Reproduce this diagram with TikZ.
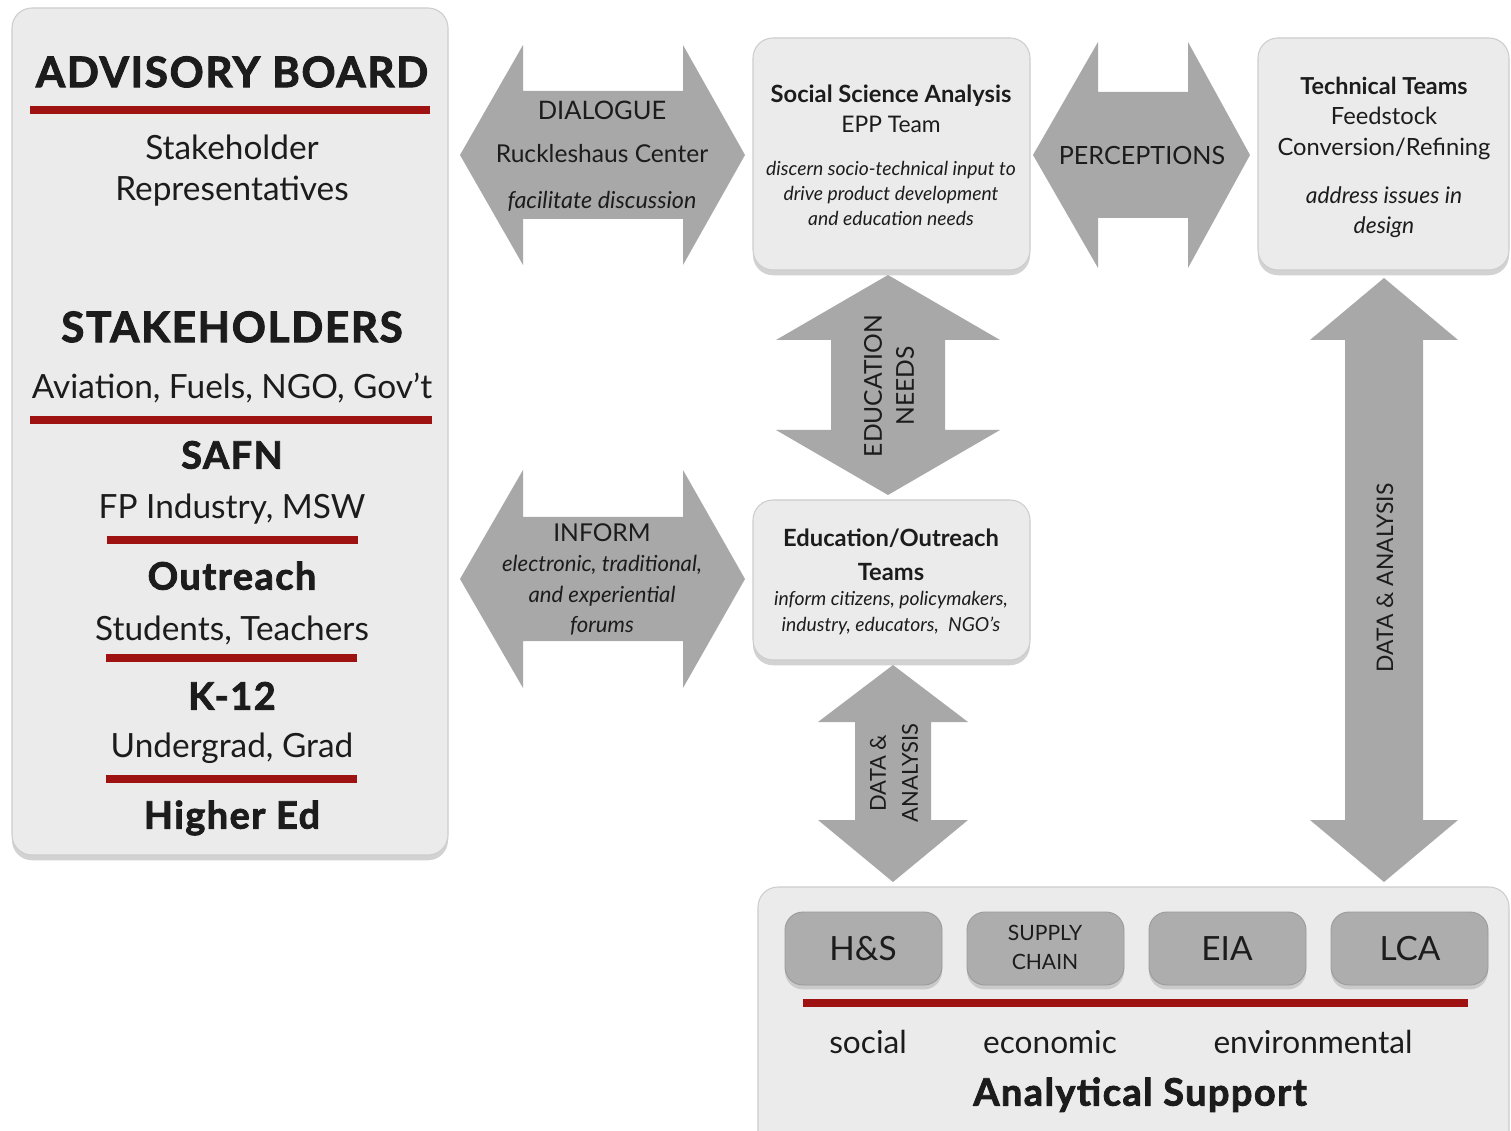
\documentclass[tikz,border=0pt]{standalone}
\usepackage{fontspec}
\setmainfont{Lato}
\newfontfamily\heavyfont{Lato}[BoldFeatures={FakeBold=2.2}, LetterSpace=4]
\usetikzlibrary{shadows}
\definecolor{panelfill}{HTML}{EBEBEB}
\definecolor{panelborder}{HTML}{CDCDCD}
\definecolor{arrowgray}{HTML}{A8A8A8}
\definecolor{innerfill}{HTML}{ADADAD}
\definecolor{innerborder}{HTML}{9A9A9A}
\definecolor{redc}{HTML}{9E1212}
\definecolor{txtc}{HTML}{1C1C1C}
\newcommand{\hdarr}[7]{\fill[arrowfill] (#1,#5) -- (#3,#5-#6) -- (#3,#5-#7) -- (#4,#5-#7) -- (#4,#5-#6) -- (#2,#5) -- (#4,#5+#6) -- (#4,#5+#7) -- (#3,#5+#7) -- (#3,#5+#6) -- cycle;}
\newcommand{\vdarr}[7]{\fill[arrowfill] (#5,#1) -- (#5-#6,#3) -- (#5-#7,#3) -- (#5-#7,#4) -- (#5-#6,#4) -- (#5,#2) -- (#5+#6,#4) -- (#5+#7,#4) -- (#5+#7,#3) -- (#5+#6,#3) -- cycle;}
\newcommand{\fsz}[1]{\fontsize{#1}{#1}\selectfont}
\newcommand{\ct}[1]{\raisebox{-0.36em}{#1}}
\tikzset{
  panel/.style={fill=panelfill, draw=panelborder, line width=0.6pt, rounded corners=0.4cm,
    drop shadow={shadow xshift=0pt, shadow yshift=-3pt, opacity=0.35}},
  innerbox/.style={fill=innerfill, draw=innerborder, line width=0.5pt, rounded corners=0.36cm,
    drop shadow={shadow xshift=0pt, shadow yshift=-2.5pt, opacity=0.3}},
  arrowfill/.style={fill=arrowgray},
  redline/.style={draw=redc, line width=4pt},
  t/.style={inner sep=0pt, anchor=base, text=txtc},
  heavy/.style={t, font=\heavyfont\bfseries\fsz{24}},
  sub/.style={t, font=\fsz{19}},
  mid/.style={t, font=\heavyfont\bfseries\fsz{21.5}},
}
\begin{document}
\begin{tikzpicture}[x=0.02cm, y=-0.02cm]
\useasboundingbox (0,0) rectangle (1511,1131);
\fill[white] (0,0) rectangle (1511,1131);

% ---------- panels ----------
\draw[panel] (12,8) rectangle (448,855);
\draw[panel] (753,38) rectangle (1030,270);
\draw[panel] (1258,38) rectangle (1509,270);
\draw[panel] (753,500) rectangle (1030,660);
\draw[panel] (758,887) rectangle (1509,1160);

% ---------- arrows ----------
\hdarr{460}{745}{523}{683}{155}{110}{64}
\hdarr{1033}{1250}{1098}{1188}{155}{113}{63}
\hdarr{460}{745}{523}{683}{579}{109}{62}
\vdarr{275}{495}{340}{430}{888}{112}{57}
\vdarr{665}{882}{722}{820}{893}{75}{38}
\vdarr{278}{882}{340}{820}{1384}{74}{39}

% ---------- left panel ----------
\node[heavy] (adv) at (232,72) {\ct{ADVISORY BOARD}};
\draw[redline] (30,110) -- (430,110);
\node[sub] (sr1) at (232,147) {\ct{Stakeholder}};
\node[sub] (sr2) at (232,188) {\ct{Representatives}};
\node[heavy] (stk) at (232,327) {\ct{STAKEHOLDERS}};
\node[sub] (avi) at (232,386) {\ct{Aviation, Fuels, NGO, Gov’t}};
\draw[redline] (30,420) -- (432,420);
\node[mid] (safn) at (232,455) {\ct{SAFN}};
\node[sub] (fp) at (232,506) {\ct{FP Industry, MSW}};
\draw[redline] (107,540) -- (358,540);
\node[mid] (outr) at (232,576) {\ct{Outreach}};
\node[sub] (stu) at (232,628) {\ct{Students, Teachers}};
\draw[redline] (106,658) -- (357,658);
\node[mid] (k12) at (232,696) {\ct{K-12}};
\node[sub] (ug) at (232,745) {\ct{Undergrad, Grad}};
\draw[redline] (106,779) -- (357,779);
\node[mid] (hed) at (232,815) {\ct{Higher Ed}};

% ---------- dialogue arrow text ----------
\node[t, font=\fsz{14.5}] (dlg) at (602,110) {\ct{DIALOGUE}};
\node[t, font=\fsz{14}] (ruck) at (602,154) {\ct{Ruckleshaus Center}};
\node[t, font=\itshape\fsz{13.3}] (fac) at (602,200) {\ct{facilitate discussion}};

% ---------- social science box ----------
\node[t, font=\bfseries\fsz{13.5}] (ssa) at (891,94) {\ct{Social Science Analysis}};
\node[t, font=\fsz{13}] (epp) at (891,124) {\ct{EPP Team}};
\node[t, font=\itshape\fsz{11}] (ss1) at (891,169) {\ct{discern socio-technical input to}};
\node[t, font=\itshape\fsz{11}] (ss2) at (891,194) {\ct{drive product development}};
\node[t, font=\itshape\fsz{11}] (ss3) at (891,219) {\ct{and education needs}};

% ---------- perceptions ----------
\node[t, font=\fsz{14.3}] (perc) at (1142,155) {\ct{PERCEPTIONS}};

% ---------- technical teams ----------
\node[t, font=\bfseries\fsz{13.3}] (tt) at (1384,86) {\ct{Technical Teams}};
\node[t, font=\fsz{13.5}] (fs) at (1384,116) {\ct{Feedstock}};
\node[t, font=\fsz{13.5}] (cr) at (1384,147) {\ct{Conversion/Refining}};
\node[t, font=\itshape\fsz{13}] (ad1) at (1384,195) {\ct{address issues in}};
\node[t, font=\itshape\fsz{13}] (ad2) at (1384,225) {\ct{design}};

% ---------- education needs ----------
\node[t, font=\fsz{14}, rotate=90] (edn1) at (873,386) {\ct{EDUCATION}};
\node[t, font=\fsz{14}, rotate=90] (edn2) at (905,386) {\ct{NEEDS}};

% ---------- inform ----------
\node[t, font=\fsz{14}] (inf) at (602,533) {\ct{INFORM}};
\node[t, font=\itshape\fsz{12.6}] (inf1) at (602,564) {\ct{electronic, traditional,}};
\node[t, font=\itshape\fsz{12.6}] (inf2) at (602,595) {\ct{and experiential}};
\node[t, font=\itshape\fsz{12.6}] (inf3) at (602,625) {\ct{forums}};

% ---------- education/outreach ----------
\node[t, font=\bfseries\fsz{13.5}] (eo1) at (891,538) {\ct{Education/Outreach}};
\node[t, font=\bfseries\fsz{13.5}] (eo2) at (891,572) {\ct{Teams}};
\node[t, font=\itshape\fsz{11}] (eo3) at (891,599) {\ct{inform citizens, policymakers,}};
\node[t, font=\itshape\fsz{11}] (eo4) at (891,625) {\ct{industry, educators,\ \ NGO’s}};

% ---------- data & analysis ----------
\node[t, font=\fsz{12.5}, rotate=90] (da1) at (878,773) {\ct{DATA \&}};
\node[t, font=\fsz{12.5}, rotate=90] (da2) at (910,773) {\ct{ANALYSIS}};
\node[t, font=\fsz{13}, rotate=90] (dab) at (1385,578) {\ct{DATA \& ANALYSIS}};

% ---------- analytical support ----------
\draw[innerbox] (785,912) rectangle (942,985);
\draw[innerbox] (967,912) rectangle (1124,985);
\draw[innerbox] (1149,912) rectangle (1306,985);
\draw[innerbox] (1331,912) rectangle (1488,985);
\node[t, font=\fsz{19}] (hs) at (863,948) {\ct{H\&S}};
\node[t, font=\fsz{12}] (sup1) at (1045,933) {\ct{SUPPLY}};
\node[t, font=\fsz{12}] (sup2) at (1045,962) {\ct{CHAIN}};
\node[t, font=\fsz{19}] (eia) at (1227,948) {\ct{EIA}};
\node[t, font=\fsz{19}] (lca) at (1410,948) {\ct{LCA}};
\draw[redline] (803,1003) -- (1468,1003);
\node[t, font=\fsz{18}] (soc) at (868,1042) {\ct{social}};
\node[t, font=\fsz{18}] (eco) at (1050,1042) {\ct{economic}};
\node[t, font=\fsz{18}] (env) at (1313,1042) {\ct{environmental}};
\node[t, font=\heavyfont\bfseries\fsz{21.5}] (ana) at (1140,1092) {\ct{Analytical Support}};
\end{tikzpicture}
\end{document}
